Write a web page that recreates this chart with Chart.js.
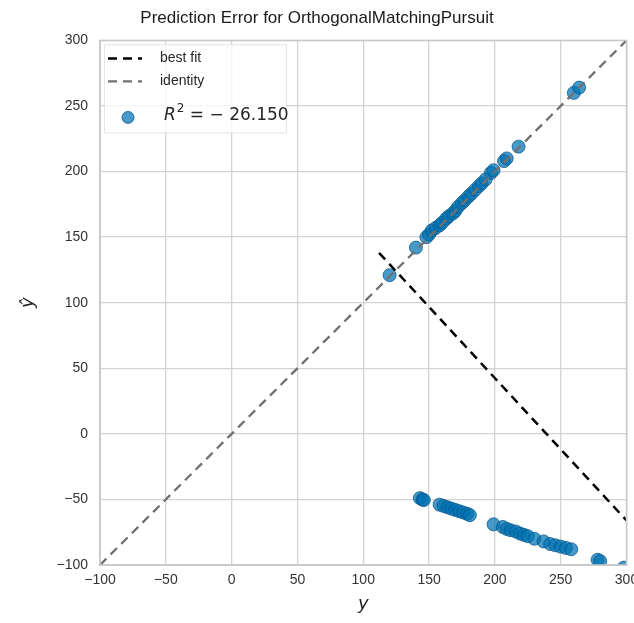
<!DOCTYPE html>
<html>
<head>
<meta charset="utf-8">
<script src="https://cdn.jsdelivr.net/npm/chart.js@4/dist/chart.umd.min.js"></script>
<style>
html,body{margin:0;padding:0;background:#fff;}
#wrap{width:634px;height:623px;position:relative;}
</style>
</head>
<body>
<div id="wrap"><canvas id="c" width="634" height="623"></canvas></div>
<script>
const chartTitle = "Prediction Error for OrthogonalMatchingPursuit";
const axisTicks = [-100, -50, 0, 50, 100, 150, 200, 250, 300];
// actual values (y) and predicted values (y hat)
const yTrue = [120,140,148,150,152,155,158,160,163,165,168,170,172,175,177,180,182,185,188,190,193,197,199,207,209,218,260,264,
               143,145,146,158,161,164,167,170,173,176,179,181,199,206,209,212,216,219,222,225,230,237,242,246,250,254,258,278,280,298];
const yPred = [121,142,150,152,155,157,159,161,164,166,168,170,173,176,178,181,183,186,189,191,194,199,201,208,210,219,260,264,
               -49,-50,-50.5,-54,-55,-56,-57,-58,-59,-60,-61,-62,-69,-71,-72.5,-73.5,-74.5,-76,-77,-78,-80,-82,-84,-85,-86,-87,-88,-96,-97,-102];
const bestFitX = [112, 300];
const bestFitY = [138, -66];
const identityX = [-100, 300];
const identityY = [-100, 300];
const seriesLabels = ["best fit", "identity", "R² = − 26.150"];

const pts = yTrue.map((v, i) => ({x: v, y: yPred[i]}));
const bf = bestFitX.map((v, i) => ({x: v, y: bestFitY[i]}));
const idl = identityX.map((v, i) => ({x: v, y: identityY[i]}));

const legendPlugin = {
  id: 'innerLegend',
  afterDatasetsDraw(chart) {
    const ctx = chart.ctx, a = chart.chartArea, ds = chart.data.datasets;
    const L = a.left, T = a.top;
    ctx.save();
    ctx.fillStyle = 'rgba(255,255,255,0.8)';
    ctx.strokeStyle = 'rgba(225,225,225,0.9)';
    ctx.lineWidth = 1;
    ctx.fillRect(L + 4, T + 4, 182, 88);
    ctx.strokeRect(L + 4.5, T + 4.5, 182, 88);
    const rows = [T + 18, T + 41];
    for (let i = 0; i < 2; i++) {
      ctx.strokeStyle = ds[i].borderColor;
      ctx.lineWidth = ds[i].borderWidth;
      ctx.setLineDash(ds[i].borderDash);
      ctx.beginPath();
      ctx.moveTo(L + 8, rows[i]);
      ctx.lineTo(L + 42, rows[i]);
      ctx.stroke();
      ctx.setLineDash([]);
      ctx.fillStyle = '#262626';
      ctx.font = '14px "Liberation Sans", Arial, sans-serif';
      ctx.textBaseline = 'middle';
      ctx.textAlign = 'left';
      ctx.fillText(ds[i].label, L + 60, rows[i]);
    }
    const sy = T + 75;
    ctx.beginPath();
    ctx.arc(L + 28, sy + 2, 6, 0, Math.PI * 2);
    ctx.fillStyle = ds[2].backgroundColor;
    ctx.fill();
    ctx.strokeStyle = ds[2].borderColor;
    ctx.lineWidth = 1;
    ctx.stroke();
    ctx.fillStyle = '#262626';
    ctx.textBaseline = 'middle';
    let x = L + 64;
    ctx.font = 'italic 17px "DejaVu Sans", sans-serif';
    ctx.fillText('R', x, sy);
    x += ctx.measureText('R').width + 1;
    ctx.font = '12px "DejaVu Sans", sans-serif';
    ctx.fillText('2', x, sy - 7);
    x += ctx.measureText('2').width;
    ctx.font = '17px "DejaVu Sans", sans-serif';
    ctx.fillText(ds[2].label.slice(2), x, sy);
    ctx.restore();
  }
};

const tickFont = {family: '"Liberation Sans", Arial, sans-serif', size: 14};
const gridColor = '#d3d3d3';
const fmt = v => (v < 0 ? '\u2212' + Math.abs(v) : String(v));

new Chart(document.getElementById('c'), {
  type: 'scatter',
  data: {
    datasets: [
      {type: 'line', label: seriesLabels[0], data: bf, borderColor: '#000000', borderWidth: 2.5,
       borderDash: [9, 6], pointRadius: 0, fill: false, order: 0},
      {type: 'line', label: seriesLabels[1], data: idl, borderColor: '#707070', borderWidth: 2.3,
       borderDash: [9, 6], pointRadius: 0, fill: false, order: 1},
      {label: seriesLabels[2], data: pts, backgroundColor: 'rgba(0,114,178,0.72)',
       borderColor: 'rgba(0,85,140,0.75)', borderWidth: 1, pointRadius: 6.5, order: 2}
    ]
  },
  options: {
    responsive: false,
    animation: false,
    layout: {padding: {left: 0, right: 0, top: 0, bottom: 0}},
    plugins: {
      legend: {display: false},
      tooltip: {enabled: false},
      title: {display: true, text: chartTitle, color: '#1a1a1a',
        font: {family: '"Liberation Sans", Arial, sans-serif', size: 17, weight: 'normal'},
        padding: {top: 8, bottom: 12}}
    },
    scales: {
      x: {
        type: 'linear', min: -100, max: 300,
        afterBuildTicks: s => { s.ticks = axisTicks.map(v => ({value: v})); },
        ticks: {color: '#333', font: tickFont, padding: 7, maxRotation: 0, callback: fmt},
        grid: {color: gridColor, lineWidth: 1.3, drawTicks: false},
        border: {color: '#c8c8c8', width: 1.5},
        title: {display: true, text: 'y', color: '#222',
          font: {family: '"DejaVu Sans", sans-serif', size: 18, style: 'italic'}, padding: {top: 0, bottom: 8}},
        afterFit: s => { s.height = 58; s.paddingLeft = 0; s.paddingRight = 0; }
      },
      y: {
        type: 'linear', min: -100, max: 300,
        afterBuildTicks: s => { s.ticks = axisTicks.map(v => ({value: v})); },
        ticks: {color: '#333', font: tickFont, padding: 12, callback: fmt},
        grid: {color: gridColor, lineWidth: 1.3, drawTicks: false},
        border: {color: '#c8c8c8', width: 1.5},
        title: {display: true, text: 'ŷ', color: '#222',
          font: {family: '"DejaVu Sans", sans-serif', size: 18, style: 'italic'}, padding: {top: 18, bottom: 0}},
        afterFit: s => { s.width = 100; s.paddingTop = 0; s.paddingBottom = 0; }
      }
    }
  },
  plugins: [legendPlugin, {
    id: 'frame',
    afterDatasetsDraw(chart) {
      const a = chart.chartArea, ctx = chart.ctx;
      ctx.save();
      ctx.strokeStyle = '#c8c8c8';
      ctx.lineWidth = 1.5;
      ctx.strokeRect(a.left, a.top, a.right - a.left, a.bottom - a.top);
      ctx.restore();
    }
  }]
});
</script>
</body>
</html>
